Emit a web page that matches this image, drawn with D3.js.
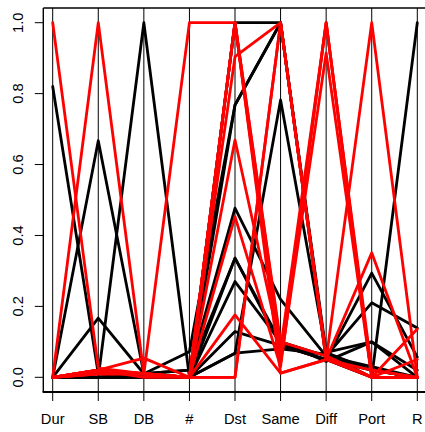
<!DOCTYPE html>
<html>
<head>
<meta charset="utf-8">
<script src="https://cdn.jsdelivr.net/npm/d3@7/dist/d3.min.js"></script>
<style>
  html, body { margin: 0; padding: 0; background: #fff; }
  svg { display: block; }
  text { font-family: "Liberation Sans", Arial, Helvetica, sans-serif; }
</style>
</head>
<body>
<div id="chart"></div>
<script>
// ---- data ----
const variables = ["Dur", "SB", "DB", "#", "Dst", "Same", "Diff", "Port", "R"];
const yTicks = [0, 0.2, 0.4, 0.6, 0.8, 1.0];
const yTickLabels = ["0.0", "0.2", "0.4", "0.6", "0.8", "1.0"];

// black group observations (values per variable, scaled 0..1)
const blackLines = [
  [0.82, 0.01, 0.00, 0.00, 0.270, 0.10, 0.06, 0.02, 0.00],
  [0.00, 0.667, 0.01, 0.00, 0.336, 0.09, 0.05, 0.294, 0.057],
  [0.00, 0.167, 0.01, 0.00, 0.068, 0.782, 0.07, 0.10, 0.00],
  [0.00, 0.00, 1.00, 0.00, 0.768, 1.00, 0.06, 0.21, 0.139],
  [0.00, 0.01, 0.01, 0.072, 0.768, 1.00, 0.05, 0.00, 1.00],
  [0.00, 0.00, 0.00, 0.00, 1.00, 1.00, 0.07, 0.02, 0.00],
  [0.00, 0.00, 0.01, 0.02, 0.477, 0.22, 0.06, 0.03, 0.00],
  [0.00, 0.00, 0.00, 0.00, 0.129, 0.09, 0.05, 0.02, 0.00],
  [0.00, 0.00, 0.00, 0.00, 0.068, 0.08, 0.065, 0.00, 0.00],
  [0.00, 0.00, 0.01, 0.02, 0.336, 0.10, 0.045, 0.10, 0.02]
];

// red group observations
const redLines = [
  [1.00, 0.026, 0.01, 0.00, 0.00, 1.00, 0.06, 0.00, 0.00],
  [0.00, 1.00, 0.01, 0.00, 0.904, 1.00, 0.05, 1.00, 0.00],
  [0.00, 0.02, 0.054, 0.00, 0.669, 0.08, 1.00, 0.00, 0.00],
  [0.00, 0.02, 0.01, 1.00, 1.00, 0.012, 0.05, 0.351, 0.00],
  [0.00, 0.02, 0.01, 0.00, 1.00, 0.05, 1.00, 0.02, 0.00],
  [0.00, 0.02, 0.01, 0.00, 1.00, 0.10, 0.06, 0.00, 0.136],
  [0.00, 0.02, 0.00, 0.00, 0.453, 0.03, 1.00, 0.00, 0.05],
  [0.00, 0.01, 0.01, 0.00, 0.176, 0.012, 0.05, 0.02, 0.00],
  [0.00, 0.01, 0.01, 0.00, 0.00, 1.00, 0.05, 0.00, 0.00],
  [0.00, 0.01, 0.01, 0.00, 1.00, 0.04, 0.914, 0.00, 0.00],
  [0.00, 0.02, 0.01, 0.00, 1.00, 0.09, 0.05, 0.00, 0.00]
];

const groupColors = { black: "#000000", red: "#ff0000" };

// ---- layout ----
const W = 425, H = 432;
const box = { left: 43.3, top: 8, right: 426.5, bottom: 392 };

const svg = d3.select("#chart").append("svg")
  .attr("width", W).attr("height", H);

const x = d3.scalePoint().domain(variables).range([52.7, 417.3]);
const y = d3.scaleLinear().domain([0, 1]).range([377.3, 22.7]);

// vertical variable lines (full height plus tick below)
svg.append("g").selectAll("line")
  .data(variables).join("line")
  .attr("x1", d => x(d)).attr("x2", d => x(d))
  .attr("y1", box.top).attr("y2", box.bottom + 9)
  .attr("stroke", "#000").attr("stroke-width", 1);

// polylines
const lineGen = d3.line().x((v, i) => x(variables[i])).y(v => y(v));
const all = redLines.slice(-1).map(v => ({ v, c: groupColors.red }))
  .concat(blackLines.map(v => ({ v, c: groupColors.black })))
  .concat(redLines.slice(0, -1).map(v => ({ v, c: groupColors.red })));

svg.append("g").selectAll("path")
  .data(all).join("path")
  .attr("d", d => lineGen(d.v))
  .attr("fill", "none")
  .attr("stroke", d => d.c)
  .attr("stroke-width", 2.8)
  .attr("stroke-linejoin", "round")
  .attr("stroke-linecap", "round");

// box: left, top, bottom
svg.append("line").attr("x1", box.left).attr("x2", box.left)
  .attr("y1", box.top).attr("y2", box.bottom)
  .attr("stroke", "#000").attr("stroke-width", 1.4);
svg.append("line").attr("x1", box.left).attr("x2", W + 5)
  .attr("y1", box.top).attr("y2", box.top)
  .attr("stroke", "#000").attr("stroke-width", 1.4);
svg.append("line").attr("x1", box.left - 0.7).attr("x2", W + 5)
  .attr("y1", box.bottom).attr("y2", box.bottom)
  .attr("stroke", "#000").attr("stroke-width", 2);

// y axis ticks and labels
const yAxis = svg.append("g");
yAxis.selectAll("line").data(yTicks).join("line")
  .attr("x1", box.left - 8.5).attr("x2", box.left)
  .attr("y1", d => y(d)).attr("y2", d => y(d))
  .attr("stroke", "#000").attr("stroke-width", 1);
yAxis.selectAll("text").data(yTicks).join("text")
  .attr("transform", d => `translate(23.3,${y(d)}) rotate(-90)`)
  .attr("text-anchor", "middle")
  .attr("font-size", "14.7px")
  .attr("fill", "#000")
  .text((d, i) => yTickLabels[i]);

// x labels
svg.append("g").selectAll("text").data(variables).join("text")
  .attr("x", d => x(d)).attr("y", 424)
  .attr("text-anchor", "middle")
  .attr("font-size", "14.7px")
  .attr("fill", "#000")
  .text(d => d);
</script>
</body>
</html>
